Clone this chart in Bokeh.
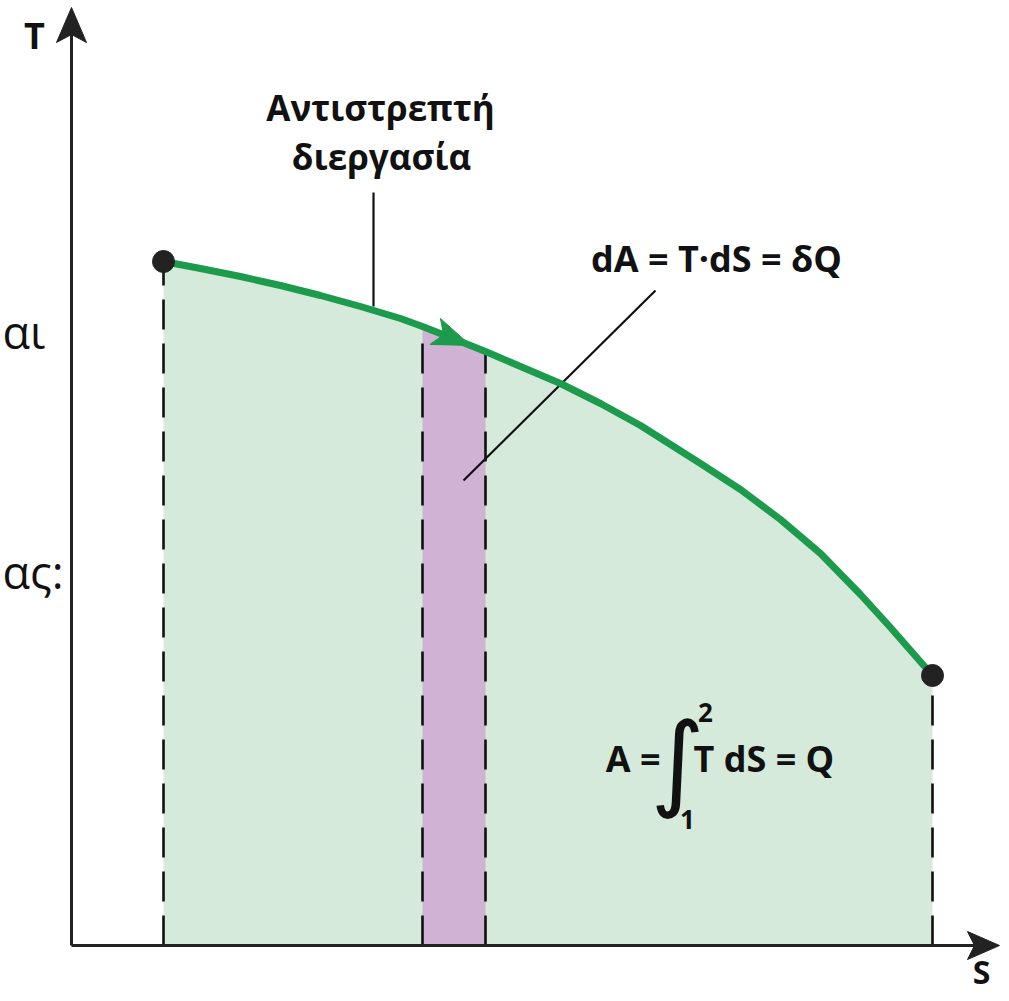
import math
from bokeh.plotting import figure
from bokeh.models import Range1d, Label
from bokeh.embed import file_html
from bokeh.resources import INLINE

# ---- data (entropy S, temperature T, arbitrary units) ----
S_curve = [0.92, 1.29, 1.69, 2.09, 2.49, 2.89, 3.29, 3.51, 3.74, 3.99, 4.14, 4.49, 4.89,
           5.29, 5.69, 5.99, 6.29, 6.69, 7.09, 7.49, 7.89, 8.19, 8.61]
T_curve = [6.84, 6.77, 6.69, 6.60, 6.50, 6.39, 6.27, 6.19, 6.10, 6.00, 5.94, 5.79, 5.62,
           5.42, 5.20, 5.01, 4.82, 4.56, 4.26, 3.92, 3.51, 3.18, 2.70]
S_strip = [3.51, 4.14]          # elementary strip dS
S_drops = [0.92, 3.51, 4.14, 8.61]
S_max, T_max = 9.28, 9.38       # axis extents
S_dir = 3.99                    # point of the direction arrow on the curve

label_process = ["Αντιστρεπτή", "διεργασία"]
label_dA = "dA = T·dS = δQ"
label_A_left = "A ="
label_A_right = "T dS = Q"
lim_hi, lim_lo = "2", "1"
axis_T, axis_S = "T", "S"
frag1, frag2 = "αι", "ας:"

GREEN_FILL = "#d5eadb"
PURPLE = "#d0b2d4"
GREEN = "#1b9b4b"
DARK = "#222222"
FONT = "Open Sans"

p = figure(width=1001, height=993,
           x_range=Range1d(-0.71, 9.30), y_range=Range1d(-0.48, 9.45),
           x_axis_location=None, y_axis_location=None,
           toolbar_location=None, output_backend="svg", min_border=0)
p.grid.visible = False
p.outline_line_color = None
p.background_fill_color = "white"

# area under the curve
p.patch([S_curve[0]] + S_curve + [S_curve[-1]], [0] + T_curve + [0],
        fill_color=GREEN_FILL, line_color=None)

# strip
i0 = S_curve.index(S_strip[0])
i1 = S_curve.index(S_strip[1])
p.patch([S_curve[i0]] + S_curve[i0:i1 + 1] + [S_curve[i1]],
        [0] + T_curve[i0:i1 + 1] + [0],
        fill_color=PURPLE, line_color=None)

# dashed drop lines
T_drops = [T_curve[S_curve.index(s)] for s in S_drops]
p.segment(x0=S_drops, y0=[0] * len(S_drops), x1=S_drops, y1=T_drops,
          line_color="#111111", line_width=2.6, line_dash="30 14")

# leader lines
p.segment(x0=[3.02, 3.92], y0=[7.53, 4.65], x1=[3.02, 5.84], y1=[6.39, 6.55],
          line_color="#111111", line_width=2.2)

# process curve
p.line(S_curve, T_curve, line_color=GREEN, line_width=7, line_join="round")


def vee(tip_x, tip_y, dx, dy, length, width, notch, color):
    """filled swept arrow head pointing along (dx, dy), sizes in axis units"""
    n = math.hypot(dx, dy)
    ux, uy = dx / n, dy / n
    px, py = -uy, ux
    xs = [tip_x,
          tip_x - length * ux + width / 2 * px,
          tip_x - notch * ux,
          tip_x - length * ux - width / 2 * px]
    ys = [tip_y,
          tip_y - length * uy + width / 2 * py,
          tip_y - notch * uy,
          tip_y - length * uy - width / 2 * py]
    p.patch(xs, ys, fill_color=color, line_color=color, line_width=1)


# direction arrow on the curve
k = S_curve.index(S_dir)
vee(S_curve[k], T_curve[k], S_curve[k] - S_curve[k - 1], T_curve[k] - T_curve[k - 1],
    0.38, 0.28, 0.29, GREEN)

# end points
p.scatter([S_curve[0], S_curve[-1]], [T_curve[0], T_curve[-1]],
          size=22, color=DARK)

# axes with arrows
p.segment(x0=[0, 0], y0=[0, 0], x1=[0, S_max - 0.15], y1=[T_max - 0.15, 0],
          line_color=DARK, line_width=3)
vee(0, T_max, 0, 1, 0.35, 0.30, 0.27, DARK)
vee(S_max, 0, 1, 0, 0.32, 0.28, 0.25, DARK)


def lab(x, y, t, size, align="center", bold=True, font=FONT, baseline="alphabetic"):
    p.add_layout(Label(x=x, y=y, text=t, text_font=font,
                       text_font_size=f"{size}px",
                       text_font_style="bold" if bold else "normal",
                       text_align=align, text_baseline=baseline,
                       text_color="#111111"))


lab(-0.37, 9.10, axis_T, 36)
lab(9.10, -0.26, axis_S, 32)
lab(3.09, 8.38, label_process[0], 35)
lab(3.10, 7.89, label_process[1], 35)
lab(6.45, 6.875, label_dA, 36)
lab(5.89, 1.875, label_A_left, 36, align="right")
lab(6.22, 1.875, label_A_right, 36, align="left")
lab(6.34, 2.33, lim_hi, 26)
lab(6.16, 1.26, lim_lo, 26)
lab(6.06, 1.85, "∫", 104, bold=False, font="DejaVu Sans", baseline="middle")
lab(-0.69, 6.14, frag1, 45, align="left", bold=False)
lab(-0.69, 3.74, frag2, 45, align="left", bold=False)

open("out.html", "w").write(file_html(p, INLINE))
